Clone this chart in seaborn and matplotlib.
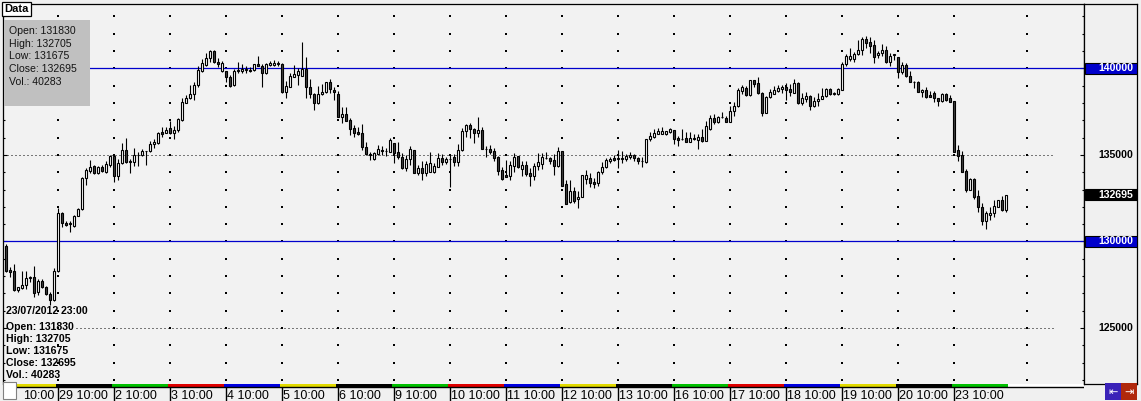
import numpy as np
import pandas as pd
import matplotlib
matplotlib.use("Agg")
import matplotlib.pyplot as plt
from matplotlib.patches import Rectangle
import seaborn as sns

# ---------------- data ----------------
opens = [129740,128355,128280,127180,127315,127470,127875,127935,127085,127720,127355,126965,126605,128300,131630,131085,130995,130910,131490,131860,
         133650,134085,134360,133940,134285,134030,134435,134935,133800,134515,135285,134590,134610,134995,134975,135225,135200,135610,135670,136305,
         136280,136535,136280,136440,137015,138015,138270,138500,139035,139845,140190,140580,141000,140365,139860,139825,139480,139035,139860,139860,
         139885,139920,139885,140230,140150,139710,140210,140210,140270,140230,138615,138940,139515,139630,139555,139960,138905,138500,137980,138500,
         138615,139190,138745,138500,137205,137360,137015,136535,136320,136245,135475,135035,134780,135050,135285,135210,135170,135685,135170,134895,
         134260,134765,135285,133970,134225,133970,134030,134030,134320,134805,134605,134765,134880,134605,135265,136365,136745,136495,136280,136440,
         135360,135325,135225,134860,134130,133840,133800,134375,134935,134205,134400,133970,133800,134360,134490,134840,134805,134690,134340,135225,
         133320,132265,132935,132435,132585,133625,133650,133435,133395,134015,134300,134650,134805,134790,134805,134780,134895,134995,134805,134650,
         134570,135900,136015,136225,136225,136205,136320,136440,135975,135920,135975,135760,135950,135880,136050,135820,136515,137115,136880,137190,
         137115,136915,137520,137805,138705,138845,138440,139305,139135,138555,137435,138325,138535,138670,138825,138905,138805,138590,139170,137980,
         138245,138385,137840,138095,138245,138385,138790,138520,138500,138765,140230,140555,140555,140825,141055,141675,141500,141330,140750,140865,
         141055,140345,140790,140635,139805,140190,139575,139225,139225,138650,138765,138440,138555,138270,138130,138500,138270,138110,135285,134975,
         134070,132975,133590,132625,132010,131200,131545,131630,132010,132395,131830]
highs = [129855,128510,128685,127400,128295,128295,128025,128570,127815,127815,127430,127100,128450,131915,131700,131185,131200,131515,131935,133720,
         134225,134705,134400,134360,134400,134650,134995,134995,134745,135705,135960,134780,135380,135185,135325,135240,135805,135900,136340,136630,
         136630,136975,136670,137115,138270,138460,139035,139190,140150,140520,140865,141055,141055,140580,140405,139850,139615,139960,140345,140230,
         140135,140060,140250,140710,140230,140290,140420,140480,140420,140290,139265,139745,140210,140035,141520,140635,139385,138575,138995,139095,
         139230,139365,138905,138705,137750,137750,137130,136725,136630,136765,135745,135150,135150,135570,135530,135415,135960,135700,135745,135125,
         134995,135500,135300,134400,134650,134650,135170,134515,135095,135035,134860,134975,135050,135630,136535,136800,136825,136555,137190,136595,
         135530,135570,135380,134920,134320,134690,134650,135095,134950,134650,134650,134225,134550,135095,135095,135185,134895,135050,135475,135240,
         133550,133550,133165,132935,133840,134130,133970,133650,134085,134590,134805,134895,134975,135285,135225,135050,135185,135050,134895,134895,
         135920,136340,136495,136570,136595,136400,136570,136460,136090,136480,136305,136305,136205,136205,136495,136975,137305,137345,137245,137460,
         137265,137825,138035,138845,139035,138980,139320,139320,139480,138650,138385,138825,138980,139055,139020,139170,139095,139365,139230,138590,
         138630,138460,138360,138590,138845,138845,138845,138650,138845,140345,140810,141155,140925,141635,141825,141865,141790,141635,141000,141385,
         141290,140900,140820,140650,140345,140290,139825,139240,139240,138780,138905,138705,138690,138290,138575,138590,138460,138130,135570,135240,
         134205,133650,133650,132975,132205,131760,132010,132395,132400,132645,132705]
lows = [128240,127935,127150,127065,127240,127240,127680,126810,126910,127340,126910,126335,126560,128250,130855,130910,130565,130855,131450,131820,
        133260,133940,133900,133880,134010,133970,134320,133420,133550,134480,134515,133970,134360,134360,134955,134415,135180,135380,135630,136015,
        136245,136205,135920,136340,136975,137980,138230,138170,138905,139805,140150,140380,140325,140095,139805,139190,138905,138995,139745,139745,
        139745,139800,139825,140130,138940,139690,140135,140135,140135,138590,138305,138905,139480,139035,139530,138305,138305,137595,137960,138440,
        138590,138590,138170,137180,136860,136950,136150,136050,136150,135285,135010,134705,134705,134995,134995,134955,135150,134550,134765,134185,
        134085,134415,133950,133835,133535,133780,134010,133940,134300,134415,134490,133165,134375,134375,135250,136050,135995,135670,136015,135340,
        134860,135050,134665,133840,133550,133700,133550,134030,134225,133800,133800,133220,133550,134130,134170,134765,134455,133840,134320,133200,
        132160,132205,132205,131915,132550,133335,133165,133105,133185,133895,134225,134515,134665,134260,134550,134665,134745,134650,134455,134320,
        134550,135820,135960,136205,136185,136150,136245,135645,135515,135860,135740,135740,135860,135360,135760,135800,136440,136800,136825,137130,
        136900,136900,137245,137780,138515,138420,138420,138905,138540,137265,137400,138305,138515,138630,138590,138170,138400,138555,137940,137880,
        138070,137595,137750,137825,138210,138360,138460,138440,138460,138750,140135,140420,140380,140770,140770,141155,140900,140325,140580,140710,
        140330,140150,140480,139425,139670,139480,139210,138845,138630,138360,138305,138340,138070,137840,138035,138130,138060,135170,134665,134010,
        132875,132950,132435,131720,130950,130705,131240,131430,131990,131760,131675]
closes = [128315,128220,127180,127390,127470,127875,127950,127045,127700,127355,126950,126605,128280,131630,131050,130950,131050,131470,131875,133685,
          134130,134285,133940,134285,134055,134455,134935,133800,134515,135285,134590,134650,134995,134975,135225,135200,135610,135760,136245,136205,
          136440,136280,136440,137075,138035,138270,138500,139035,139900,140290,140580,141000,140345,140265,140290,139480,138995,139860,139885,139960,
          139975,139825,140230,140150,139710,140230,140325,140325,140325,138615,138960,139555,139670,139845,139960,138905,138500,137980,138500,138630,
          139190,138790,138615,137205,137360,136975,136515,136280,136225,135475,135035,135000,135095,135325,135210,135240,135860,135125,134895,134225,
          134765,135325,133970,134225,133970,134490,134530,134340,134805,134605,134765,134780,134605,135265,136365,136745,136495,136280,136440,135360,
          135340,135170,134840,134085,133590,133725,134415,134860,134285,134400,133895,133800,134360,134590,134860,134820,134665,134360,135225,133220,
          132180,132935,132355,132585,133840,133820,133395,133320,134015,134300,134705,134765,134705,134805,134790,134955,134995,134805,134665,134650,
          135900,136075,136265,136380,136360,136365,136495,135935,135880,135935,135760,135975,135935,136050,135820,136670,137115,136900,137190,137210,
          136915,137535,137825,138730,138905,138440,139305,139110,138555,137400,138345,138630,138745,138845,138905,138745,138630,139170,138015,138270,
          138385,137840,138095,138230,138385,138790,138500,138555,138790,140230,140710,140710,140825,141055,141675,141480,141305,140670,140900,141055,
          140345,140710,140810,139805,140190,139575,139225,139210,138650,138765,138360,138360,138270,138130,138500,138170,138070,135185,134955,134030,
          132975,133590,132585,132010,131200,131665,131665,132050,132395,131820,132695]
volume_last = 40283
timestamp_last = "23/07/2012 23:00"
day_labels = ["10:00", "29 10:00", "2 10:00", "3 10:00", "4 10:00", "5 10:00", "6 10:00", "9 10:00",
              "10 10:00", "11 10:00", "12 10:00", "13 10:00", "16 10:00", "17 10:00", "18 10:00",
              "19 10:00", "20 10:00", "23 10:00"]
bars_per_day = 14
blue_levels = [140000, 130000]
dotted_levels = [135000, 125000]
plain_labels = [135000, 125000]

# ---------------- style ----------------
sns.set_theme(style="white")
plt.rcParams['font.family'] = ['Liberation Sans', 'DejaVu Sans']
plt.rcParams['lines.scale_dashes'] = True

W, H = 1141, 401
BG = '#f0f0f0'
DARK = '#404040'
BLUE = '#0000cc'
weekday_palette = ['#e2da00', '#000000', '#00c000', '#e00000', '#0000e0']

fig = plt.figure(figsize=(W / 100, H / 100), dpi=100)
fig.patch.set_facecolor(BG)


def box(x0, y0, x1, y1):
    return [x0 / W, 1 - y1 / H, (x1 - x0) / W, (y1 - y0) / H]


XMIN = -0.75
XMAX = XMIN + 1081 / 4
YTOP, YBOT = 143713, 121772

ax = fig.add_axes(box(3, 4, 1084, 384))
ax.set_facecolor('#f2f2f2')
ax.set_xlim(XMIN, XMAX)
ax.set_ylim(YBOT, YTOP)


def px2x(p):
    return XMIN + (p - 3) / 4


df = pd.DataFrame({'o': opens, 'h': highs, 'l': lows, 'c': closes})
df['i'] = np.arange(len(df))
up = (df.c >= df.o).values

# grid: dotted horizontal lines
for lv in dotted_levels:
    start = px2x(76) if lv == 125000 else XMIN
    ax.hlines(lv, start, px2x(1055), colors='black', lw=0.72,
              linestyles=(0, (1, 3)), zorder=1)
# blue level lines
for lv in blue_levels:
    ax.axhline(lv, color=BLUE, lw=0.9, zorder=2)

# dotted vertical grid (dots at each 1000 level)
n_days = len(day_labels)
tick_idx = [bars_per_day * j - 1 for j in range(n_days)]
col_x = tick_idx[1:] + [px2x(1027)]
lvls = np.arange(122000, 143001, 1000)
gx, gy = np.meshgrid(col_x, lvls)
ax.scatter(gx.ravel(), gy.ravel(), s=0.55, marker='s', color='black',
           linewidths=0, zorder=1)

# candles
ax.vlines(df.i, df.l, df.h, colors='black', lw=0.8, zorder=3)
bottom = np.minimum(df.o, df.c)
height = np.maximum((df.c - df.o).abs(), 25)
ax.bar(df.i, height, bottom=bottom, width=0.5,
       color=np.where(up, 'white', DARK), edgecolor='black', linewidth=0.8, zorder=4)

# axis ticks
ax.set_xticks([])
ax.set_yticks([125000, 130000, 135000, 140000])
ax.set_yticks(lvls, minor=True)
ax.tick_params(axis='y', which='major', direction='in', length=3.2, width=0.8,
               left=True, right=True, labelleft=False, labelright=False, color='black')
ax.tick_params(axis='y', which='minor', direction='in', length=1.6, width=0.8,
               left=True, right=True, color='black')
for s in ['left', 'top', 'right']:
    ax.spines[s].set_color('black')
    ax.spines[s].set_linewidth(0.9)
ax.spines['bottom'].set_visible(False)

# ---------------- time strip ----------------
axs = fig.add_axes(box(3, 384, 1084, 401))
axs.set_xlim(XMIN, XMAX)
axs.set_ylim(17, 0)
axs.set_facecolor(BG)
axs.axis('off')
for j in range(n_days):
    x0 = XMIN if j == 0 else tick_idx[j] - 0.5
    x1 = tick_idx[j] + bars_per_day - 0.5
    axs.add_patch(Rectangle((x0, 0), x1 - x0, 2.6, color=weekday_palette[j % 5], lw=0))
last_end = tick_idx[-1] + bars_per_day - 0.5
axs.add_patch(Rectangle((last_end, 0), XMAX - last_end, 2.6, color='white', lw=0))
axs.axhline(3.0, color='black', lw=1.0)
for j, lab in enumerate(day_labels):
    if j == 0:
        axs.text(tick_idx[1] - 0.9, 11.6, lab, ha='right', va='center', fontsize=9, color='black')
        continue
    axs.vlines(tick_idx[j], 3, 17, colors='black', lw=1.0)
    axs.text(tick_idx[j] + 0.35, 11.6, lab, ha='left', va='center', fontsize=9, color='black')

# ---------------- right price panel ----------------
axr = fig.add_axes(box(1084, 4, 1137, 384))
axr.set_xlim(0, 53)
axr.set_ylim(YBOT, YTOP)
axr.set_facecolor(BG)
axr.set_xticks([])
axr.set_yticks([])
for s in axr.spines.values():
    s.set_color('black')
    s.set_linewidth(0.9)
half = 5.6 * (YTOP - YBOT) / 380


def price_tag(val, face, txtcolor):
    if face is not None:
        axr.add_patch(Rectangle((0.5, val - half), 52, 2 * half, facecolor=face,
                                edgecolor='black', lw=0.8, zorder=3))
    axr.text(49.5, val, f"{val}", ha='right', va='center', fontsize=7.6,
             fontweight='bold', color=txtcolor, zorder=4)


for lv in blue_levels:
    price_tag(lv, BLUE, 'white')
for lv in plain_labels:
    price_tag(lv, None, 'black')
price_tag(closes[-1], 'black', 'white')

# ---------------- overlays (figure pixel coords) ----------------
def fx(x):
    return x / W


def fy(y):
    return 1 - y / H


def frect(x0, y0, x1, y1, **kw):
    fig.add_artist(Rectangle((fx(x0), fy(y1)), (x1 - x0) / W, (y1 - y0) / H,
                             transform=fig.transFigure, **kw))


# Data tab
frect(2, 2, 31, 16, facecolor='white', edgecolor='black', lw=0.9, zorder=10)
fig.text(fx(4.5), fy(9.5), "Data", ha='left', va='center', fontsize=8,
         fontweight='bold', color='black', zorder=11)

# info box
frect(4, 20, 90, 106, facecolor='#c0c0c0', edgecolor='none', zorder=10)
info_lines = [f"Open: {opens[-1]}", f"High: {highs[-1]}", f"Low: {lows[-1]}",
              f"Close: {closes[-1]}", f"Vol.: {volume_last}"]
for k, line in enumerate(info_lines):
    fig.text(fx(9), fy(31 + 12.7 * k), line, ha='left', va='center', fontsize=7.6,
             color='#141414', zorder=11)

# bottom-left bold info
fig.text(fx(6.5), fy(311.5), timestamp_last, ha='left', va='center', fontsize=7.6,
         fontweight='bold', color='black', zorder=11)
for k, line in enumerate(info_lines):
    fig.text(fx(6.5), fy(327.3 + 12.0 * k), line, ha='left', va='center', fontsize=7.6,
             fontweight='bold', color='black', zorder=11)

# corner box
frect(3, 382, 16, 399, facecolor='white', edgecolor='#808080', lw=0.8, zorder=10)

# scroll buttons
frect(1105, 383, 1121, 400, facecolor='#3a22b8', edgecolor='none', zorder=10)
frect(1121, 383, 1137, 400, facecolor='#b0280c', edgecolor='none', zorder=10)
fig.text(fx(1113), fy(391.5), "\u21e4", ha='center', va='center', fontsize=8,
         color='white', family='DejaVu Sans', zorder=11)
fig.text(fx(1129), fy(391.5), "\u21e5", ha='center', va='center', fontsize=8,
         color='white', family='DejaVu Sans', zorder=11)

fig.savefig("out.png", dpi=100, facecolor=fig.get_facecolor())
